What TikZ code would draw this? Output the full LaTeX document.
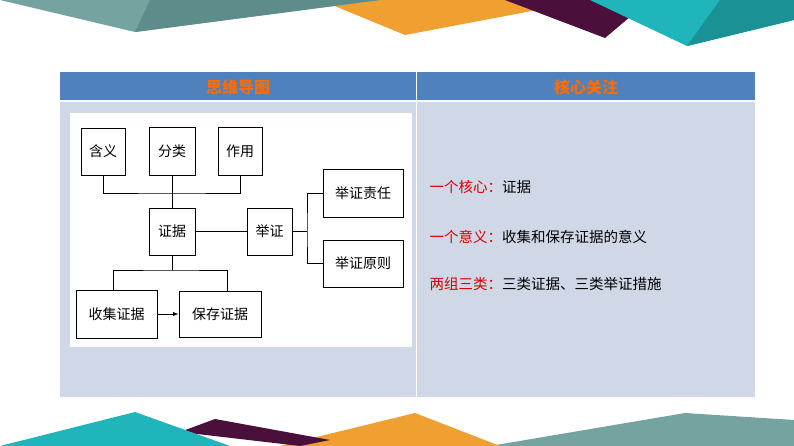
\documentclass[tikz,border=0pt]{standalone}
\usepackage{fontspec}
\setmainfont{Noto Sans CJK SC}
\newfontfamily\cjk{Noto Sans CJK SC}
\definecolor{hdblue}{RGB}{79,129,189}
\definecolor{bodyc}{RGB}{208,216,232}
\begin{document}
\begin{tikzpicture}[x=1pt,y=-1pt,
  bx/.style={draw=black,line width=0.9pt,fill=white,inner sep=0,font=\cjk\fontsize{14}{14}\selectfont},
  ln/.style={line width=0.9pt},
  hd/.style={text=orange!85!red,font=\cjk\bfseries\fontsize{16}{16}\selectfont},
  rt/.style={anchor=west,font=\cjk\fontsize{14.5}{15}\selectfont}]
\useasboundingbox (0,0) rectangle (794,446);
\definecolor{tg}{HTML}{5E8C8A}\definecolor{tg2}{HTML}{75A3A0}
\definecolor{og}{HTML}{F0A030}\definecolor{pu}{HTML}{4A0F3A}\definecolor{cy}{HTML}{1FB5BA}
% top banner
\fill[og] (320,0) -- (590,0) -- (405,35) -- cycle;
\fill[pu] (505,0) -- (650,0) -- (605,38) -- cycle;
\fill[tg2] (0,0) -- (380,0) -- (135,32) -- cycle;
\fill[tg] (135,32) -- (150,0) -- (380,0) -- cycle;
\fill[cy] (590,0) -- (794,0) -- (794,20) -- (687,46) -- cycle;
\fill[cy!80!black] (687,46) -- (720,0) -- (794,0) -- (794,20) -- cycle;
% bottom banner
\fill[tg2] (490,446) -- (685,413) -- (794,420) -- (794,446) -- cycle;
\fill[og] (280,446) -- (415,413) -- (500,446) -- cycle;
\fill[pu] (180,432) -- (215,419) -- (330,440) -- (300,446) -- cycle;
\fill[cy] (0,446) -- (135,412) -- (230,446) -- cycle;
% table
\fill[hdblue] (60,72) rectangle (755,100);
\fill[bodyc] (60,102) rectangle (755,397);
\draw[white,line width=1pt] (416,72) -- (416,397);
\node[hd] (h1) at (238,87) {思维导图};
\node[hd] (h2) at (586,87) {核心关注};
\fill[white] (70,113) rectangle (412,347);
% nodes
\node[bx,minimum width=44,minimum height=47] (hy) at (103,151.5) {含义};
\node[bx,minimum width=46,minimum height=48] (fl) at (172,151) {分类};
\node[bx,minimum width=44,minimum height=48] (zy) at (240,151) {作用};
\node[bx,minimum width=46,minimum height=47] (zj) at (172,231.5) {证据};
\node[bx,minimum width=45,minimum height=47] (jz) at (269.5,231.5) {举证};
\node[bx,minimum width=80,minimum height=48] (zr) at (363,193) {举证责任};
\node[bx,minimum width=80,minimum height=47] (yz) at (363,263.5) {举证原则};
\node[bx,minimum width=81,minimum height=48] (sj) at (116.5,314) {收集证据};
\node[bx,minimum width=82,minimum height=46] (bc) at (220,314) {保存证据};
\coordinate (bus) at (172,193);
\draw[ln] (hy.south) |- (bus) -| (zy.south);
\draw[ln] (fl.south) -- (zj.north);
\draw[ln] (zj.east) -- (jz.west);
\coordinate (br) at (307,231.5);
\draw[ln] (jz.east) -- (br);
\draw[ln] (zr.west) -| (br) |- (yz.west);
\coordinate (bus2) at (172,270);
\coordinate (sjt) at (113,290);
\coordinate (bct) at (227,291);
\draw[ln] (zj.south) -- (bus2);
\draw[ln] (sjt) |- (bus2) -| (bct);
\draw[ln,-latex] (sj.east) -- (bc.west);
% right text
\node[rt] (t1) at (426,187) {\textcolor{red!85!black}{一个核心：}证据};
\node[rt] (t2) at (426,237) {\textcolor{red!85!black}{一个意义：}收集和保存证据的意义};
\node[rt] (t3) at (426,284) {\textcolor{red!85!black}{两组三类：}三类证据、三类举证措施};
\end{tikzpicture}
\end{document}
